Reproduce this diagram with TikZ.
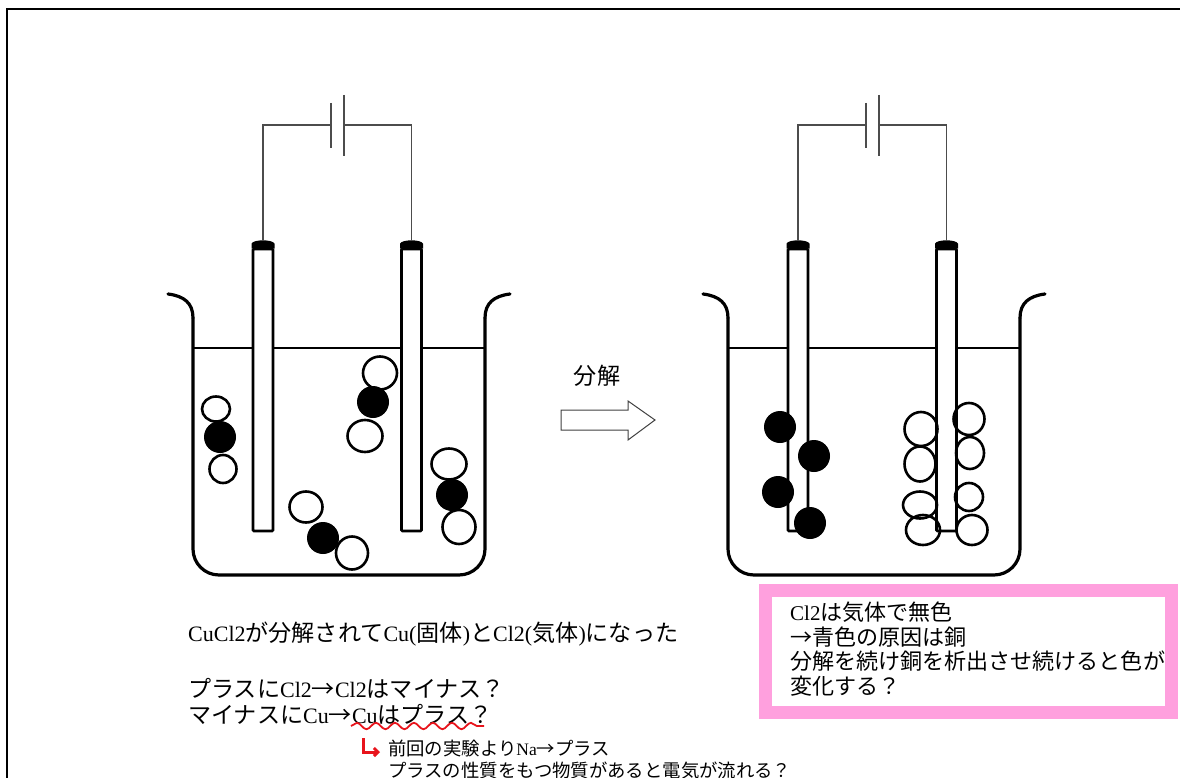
\documentclass[tikz,border=0pt]{standalone}
\usepackage{fontspec}
\setmainfont{Liberation Serif}
\newfontfamily\ja[Scale=1.05]{Noto Sans CJK JP}
\usepackage{xcolor}
\usetikzlibrary{arrows.meta, decorations.pathmorphing, positioning}

\definecolor{memo}{RGB}{255,160,222}
\definecolor{pen}{RGB}{232,20,28}

\tikzset{
    beaker/.style={line width=3.2pt, line cap=round, line join=round},
    electrode/.style={draw, fill=white, line width=2.6pt, minimum width=20pt,
        minimum height=282pt, inner sep=0pt, rounded corners=1pt},
    wire/.style={draw=black!70, line width=1.2pt},
    atomw/.style={line width=2.6pt},
    txt/.style={anchor=west, inner sep=0pt, font=\fontsize{22}{26}\selectfont},
    latin/.style={font=\fontsize{24}{26}\selectfont},
    memotxt/.style={anchor=north west, inner sep=0pt, align=left,
        font=\fontsize{21}{24.5}\selectfont},
    smalltxt/.style={anchor=north west, inner sep=0pt, align=left,
        font=\fontsize{17.5}{22}\selectfont},
    wave/.style={pen, line width=1.8pt,
        decorate, decoration={snake, amplitude=3.2pt, segment length=19pt}},
    hook/.style={pen, line width=3pt, -{Straight Barb[length=4pt, width=8pt]}}
}

\begin{document}
\begin{tikzpicture}[x=1pt, y=-1pt]
    \useasboundingbox (0,0) rectangle (1180,778);

    % 1. 枠
    \draw[line width=2pt] (1180,9) -- (7,9) -- (7,778);

    % 2. ビーカー・電極・電源（左：分解前，右：分解後）
    \foreach \dx in {0,535} {
        \begin{scope}[xshift=\dx pt]
            \draw[beaker] (168,294) .. controls (184,296) and (193,303) .. (193,318);
            \draw[beaker] (485,318) .. controls (485,303) and (494,296) .. (510,294);
            \draw[beaker, rounded corners=26pt] (193,318) -- (193,575) -- (485,575) -- (485,318);
            \draw[line width=1.6pt] (193,348) -- (485,348);

            \node[electrode] (eA\dx) at (263,390) {};
            \node[electrode] (eB\dx) at (411.5,390) {};
            \foreach \e in {eA\dx, eB\dx}
                \fill ([xshift=-11.5pt,yshift=-1pt]\e.north)
                    -- ([xshift=-11.5pt,yshift=4pt]\e.north)
                    .. controls ([xshift=-10pt,yshift=8.5pt]\e.north)
                    and ([xshift=10pt,yshift=8.5pt]\e.north)
                    .. ([xshift=11.5pt,yshift=4pt]\e.north)
                    -- ([xshift=11.5pt,yshift=-1pt]\e.north) -- cycle;

            \coordinate (bA\dx) at (331,125);
            \coordinate (bB\dx) at (344,125);
            \draw[wire] ([yshift=7pt]eA\dx.north) |- (bA\dx);
            \draw[wire] (bB\dx) -| ([yshift=7pt]eB\dx.north);
            \draw[wire] ([yshift=22pt]bA\dx) -- ([yshift=-23pt]bA\dx);
            \draw[wire] ([yshift=30pt]bB\dx) -- ([yshift=-31pt]bB\dx);
        \end{scope}
    }

    % 3. 分解前の粒子 (Cu と Cl)
    \foreach \x/\y/\rx/\ry in {216/409/14/12.5, 223/469/13.5/14,
            380/373/17/16.5, 365/436/17.5/16, 306/507/16.5/15.5, 352/553/16/16.5,
            449/464/17.5/15.5, 459/527/16.5/17}
        \draw[atomw] (\x,\y) ellipse [x radius=\rx, y radius=\ry];
    \foreach \x/\y in {220/437, 373/402, 323/538, 452/495}
        \fill (\x,\y) circle [radius=16];

    % 4. 分解後の粒子
    \foreach \x/\y/\rx/\ry in {921/429/16.5/17, 920/464/15.5/17.5,
            920/505/17/13.5, 923/530/17/15,
            969/419/15.5/16, 970/453/14/16, 969/497/14/14, 972/530/15.5/15}
        \draw[atomw] (\x,\y) ellipse [x radius=\rx, y radius=\ry];
    \foreach \x/\y in {780/427, 814/456, 778/492, 810/523}
        \fill (\x,\y) circle [radius=16];

    % 5. 矢印
    \node[txt, anchor=center] (bunkai) at (597,376) {\ja 分解};
    \draw[black!75, line width=1pt, fill=white] (561,410) -- (628,410) -- (628,401)
        -- (655,420) -- (628,440) -- (628,430) -- (561,430) -- cycle;

    % 6. 説明
    \node[txt] (result) at (188,634)
        {CuCl2{\ja が分解されて}Cu({\ja 固体}){\ja と}Cl2({\ja 気体}){\ja になった}};
    \node[txt] (plus) at (188,688) {{\ja プラスに}Cl2{\ja →}Cl2{\ja はマイナス？}};
    \node[txt] (minus) at (188,714) {{\ja マイナスに}Cu{\ja →}Cu{\ja はプラス？}};
    \draw[wave] (351,726) -- (484,726);

    \node[smalltxt] (prev) at (388,740)
        {{\ja 前回の実験より}Na{\ja →プラス}\\
         {\ja プラスの性質をもつ物質があると電気が流れる？}};
    \draw[hook] (363,738) |- ([xshift=-8pt,yshift=-12pt]prev.north west);

    % 7. メモ
    \draw[memo, line width=13pt] (765,590) rectangle (1171,712);
    \node[memotxt] (memo) at (790,602)
        {Cl2{\ja は気体で無色}\\
         {\ja →青色の原因は銅}\\
         {\ja 分解を続け銅を析出させ続けると色が}\\
         {\ja 変化する？}};
\end{tikzpicture}
\end{document}
